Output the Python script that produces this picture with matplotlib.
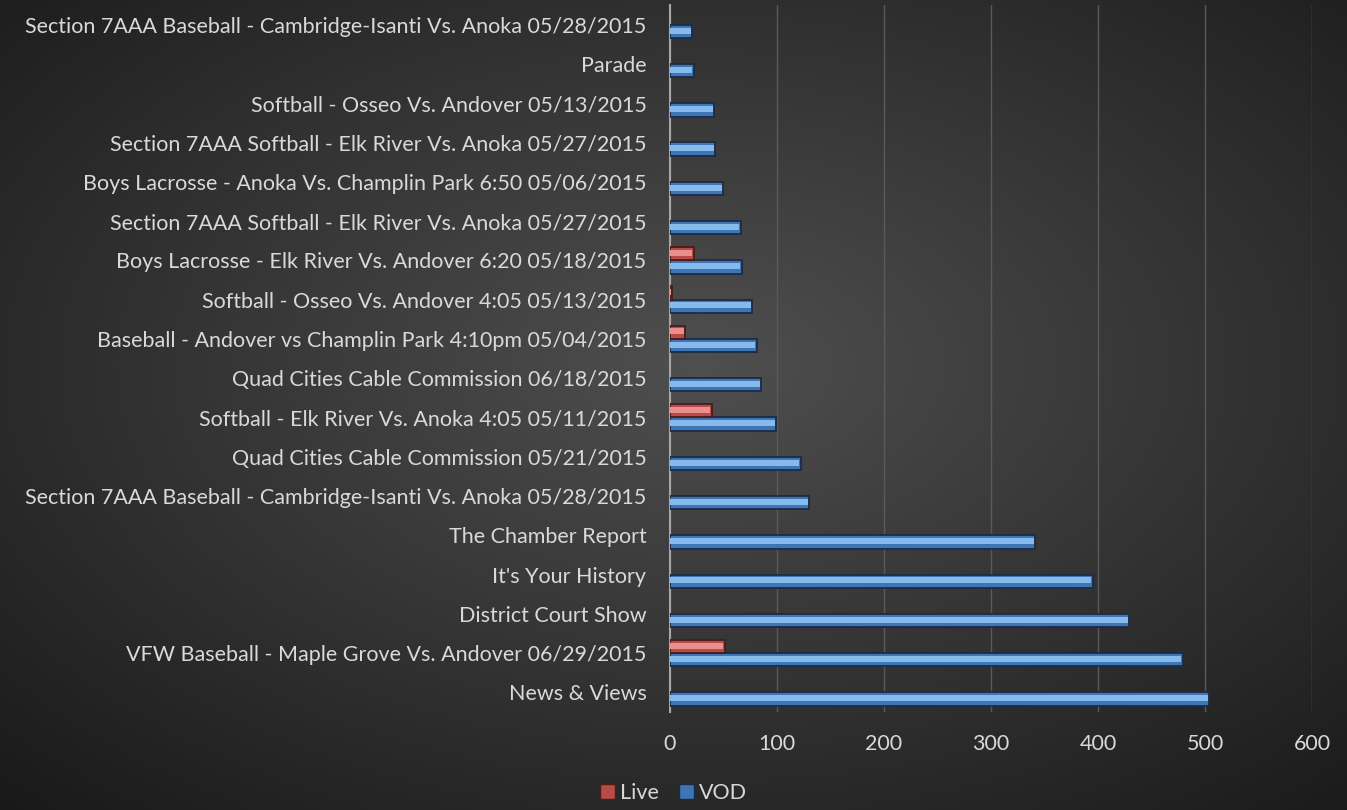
import numpy as np
import matplotlib.pyplot as plt
from matplotlib.patches import Patch

# categories listed bottom to top (as drawn)
programs = [
    "News & Views",
    "VFW Baseball - Maple Grove Vs. Andover 06/29/2015",
    "District Court Show",
    "It's Your History",
    "The Chamber Report",
    "Section 7AAA Baseball - Cambridge-Isanti Vs. Anoka 05/28/2015",
    "Quad Cities Cable Commission 05/21/2015",
    "Softball - Elk River Vs. Anoka 4:05 05/11/2015",
    "Quad Cities Cable Commission 06/18/2015",
    "Baseball - Andover vs Champlin Park 4:10pm 05/04/2015",
    "Softball - Osseo Vs. Andover 4:05 05/13/2015",
    "Boys Lacrosse - Elk River Vs. Andover 6:20 05/18/2015",
    "Section 7AAA Softball - Elk River Vs. Anoka 05/27/2015",
    "Boys Lacrosse - Anoka Vs. Champlin Park 6:50 05/06/2015",
    "Section 7AAA Softball - Elk River Vs. Anoka 05/27/2015",
    "Softball - Osseo Vs. Andover 05/13/2015",
    "Parade",
    "Section 7AAA Baseball - Cambridge-Isanti Vs. Anoka 05/28/2015",
]
vod = [504, 479, 429, 395, 341, 130, 122, 99, 85, 81, 77, 67, 66, 50, 42, 41, 22, 21]
live = [0, 51, 0, 0, 0, 0, 0, 39, 0, 14, 2, 22, 0, 0, 0, 0, 0, 0]

plt.rcParams['font.family'] = ['Lato', 'DejaVu Sans']

fig = plt.figure(figsize=(13.47, 8.10), dpi=100)

# dark radial background
bg = fig.add_axes([0, 0, 1, 1], zorder=-10)
xx, yy = np.meshgrid(np.linspace(0, 1, 400), np.linspace(0, 1, 240))
r = np.sqrt(((xx - 0.52) / 0.75) ** 2 + ((yy - 0.45) / 0.75) ** 2)
shade = np.clip(0.31 - 0.21 * r, 0.10, 0.31)
bg.imshow(np.dstack([shade] * 3), aspect='auto', extent=[0, 1, 0, 1], origin='upper')
bg.axis('off')

ax = fig.add_axes([0.4974, 0.121, 0.4766, 0.8728])
ax.set_facecolor('none')

y = np.arange(len(programs))
h = 0.34

def bevel_bars(ypos, vals, base, light, edge):
    vals = np.asarray(vals, dtype=float)
    keep = vals > 0
    ax.barh(ypos[keep], vals[keep], height=h, color=base, edgecolor=edge, linewidth=1.3, zorder=3)
    ax.barh(ypos[keep] + h * 0.06, vals[keep] - 1.2, height=h * 0.45, color=light,
            linewidth=0, zorder=4)

bevel_bars(y - h / 2, vod, '#3f74b5', '#86b9ec', '#1a2c45')
bevel_bars(y + h / 2, live, '#b84a47', '#e8908d', '#4a1c1b')

ax.set_xlim(0, 600)
ax.set_ylim(-0.5, len(programs) - 0.5)
ax.set_xticks(range(0, 601, 100))
ax.set_yticks(y)
ax.set_yticklabels(programs)
ax.grid(axis='x', color='#5a5a5a', linewidth=1)
ax.set_axisbelow(True)
for s in ['top', 'right', 'bottom']:
    ax.spines[s].set_visible(False)
ax.spines['left'].set_color('#a6a6a6')
ax.spines['left'].set_linewidth(1.5)
ax.tick_params(axis='both', length=0, colors='#d9d9d9', labelsize=15.5)
ax.tick_params(axis='x', pad=16)
ax.tick_params(axis='y', pad=17)

handles = [Patch(facecolor='#b84a47', edgecolor='#4a1c1b', label='Live'),
           Patch(facecolor='#3f74b5', edgecolor='#1a2c45', label='VOD')]
leg = fig.legend(handles=handles, loc='center', bbox_to_anchor=(0.5, 0.021), ncol=2,
                 frameon=False, fontsize=15.5, handlelength=0.7, handleheight=0.7,
                 handletextpad=0.25, columnspacing=0.9)
for t in leg.get_texts():
    t.set_color('#d9d9d9')

fig.savefig('out.png', dpi=100)
